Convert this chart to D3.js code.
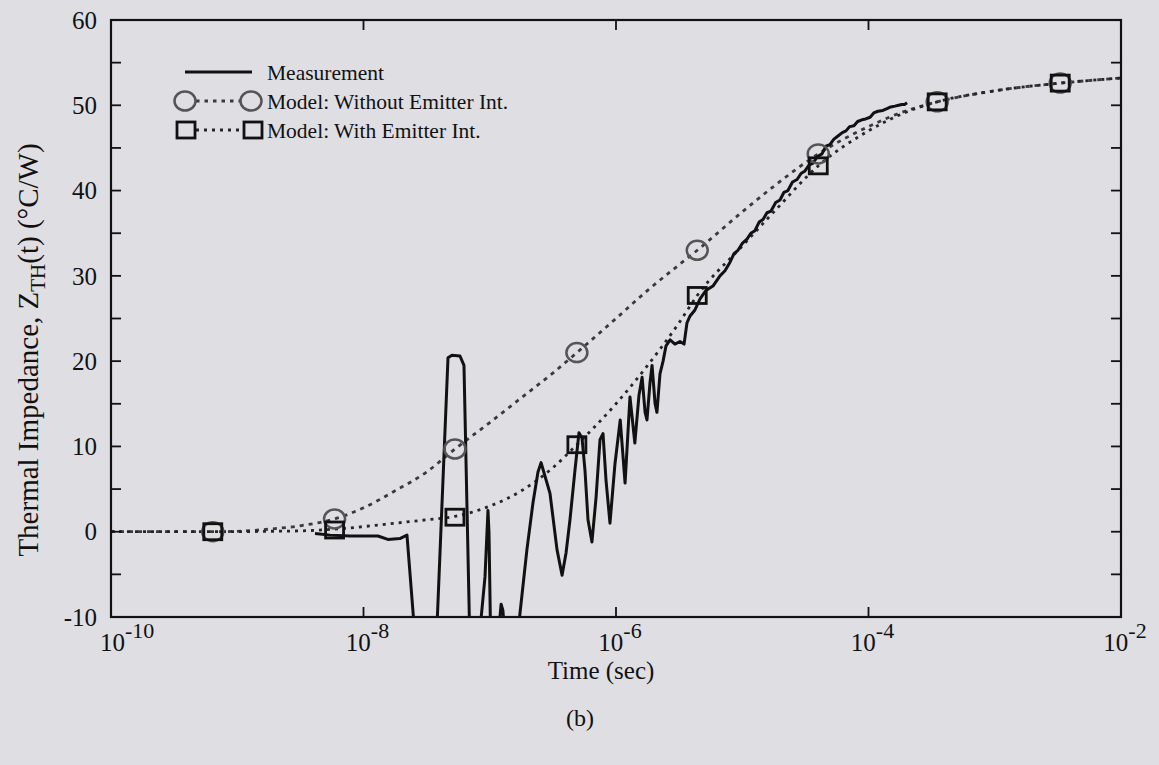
<!DOCTYPE html>
<html><head><meta charset="utf-8">
<script src="https://cdn.jsdelivr.net/npm/d3@7/dist/d3.min.js"></script>
<style>
html,body{margin:0;padding:0;background:#dfdee3;}
svg{display:block;font-family:"Liberation Serif","Times New Roman",serif;}
</style></head>
<body><svg id="c" width="1159" height="765"></svg>
<script>
// ---------- data (time in seconds, impedance in °C/W) ----------
const modelTime = [1e-10,3.16e-10,6.4e-10,1e-9,1.78e-9,3.16e-9,5.9e-9,1e-8,1.78e-8,3.16e-8,5.3e-8,1e-7,1.78e-7,3.16e-7,4.9e-7,1e-6,1.78e-6,3.16e-6,4.4e-6,1e-5,1.78e-5,4e-5,1e-4,1.78e-4,3.5e-4,1e-3,3.3e-3,1e-2];
const modelWithout = [0,0,0,0.05,0.3,0.7,1.5,2.8,4.8,7.0,9.7,12.8,15.7,18.6,21,25,28.3,31.3,33,37.5,40.5,44.3,47.5,49.1,50.4,51.7,52.6,53.2];
const modelWith = [0,0,0,0,0.05,0.1,0.3,0.6,1.0,1.4,1.8,3.0,4.8,7.5,10.2,15,19.5,24.5,27.7,33.5,37.5,42.9,47,48.9,50.4,51.7,52.6,53.2];

const markerTime = [6.4e-10,5.9e-9,5.3e-8,4.9e-7,4.4e-6,4e-5,3.5e-4,3.3e-3];
const markerWithout = [0,1.5,9.7,21,33,44.3,50.4,52.6];
const markerWith = [0,0.2,1.7,10.2,27.7,42.9,50.4,52.6];

const measTime = [4.13e-9,5.43e-9,7.82e-9,1.30e-8,1.56e-8,1.94e-8,2.21e-8,2.61e-8,3.75e-8,4.67e-8,5.02e-8,5.81e-8,6.25e-8,6.98e-8,8.07e-8,9.17e-8,9.68e-8,9.86e-8,1.02e-7,
 1.14e-7,1.23e-7,1.27e-7,1.35e-7,1.61e-7,1.97e-7,2.20e-7,2.41e-7,2.55e-7,2.74e-7,3.00e-7,3.41e-7,3.74e-7,4.02e-7,4.32e-7,4.73e-7,5.09e-7,5.38e-7,5.68e-7,6.00e-7,6.45e-7,6.95e-7,7.47e-7,7.89e-7,8.34e-7,8.96e-7,9.82e-7,
 1.08e-6,1.18e-6,1.29e-6,1.41e-6,1.52e-6,1.61e-6,1.70e-6,1.76e-6,1.86e-6,1.93e-6,2.04e-6,2.11e-6,2.23e-6,2.36e-6,2.49e-6,2.68e-6,2.93e-6,3.21e-6,3.46e-6,3.65e-6,3.86e-6,4.22e-6,4.63e-6,5.16e-6,5.86e-6,6.66e-6,7.3e-6,8.00e-6,8.6e-6,9.25e-6,1.0e-5,1.09e-5,1.17e-5,1.26e-5,1.36e-5,1.46e-5,1.57e-5,1.69e-5,1.84e-5,1.99e-5,2.14e-5,2.30e-5,2.5e-5,2.72e-5,2.92e-5,3.14e-5,3.38e-5,3.63e-5,3.95e-5,4.28e-5,4.6e-5,4.95e-5,5.3e-5,5.73e-5,6.2e-5,6.63e-5,7.1e-5,7.67e-5,8.2e-5,8.87e-5,9.5e-5,1.03e-4,1.1e-4,1.19e-4,1.3e-4,1.40e-4,1.5e-4,1.62e-4,1.73e-4,1.84e-4,1.93e-4,2.02e-4];
const measZ = [-0.2,-0.4,-0.5,-0.5,-0.9,-0.8,-0.4,-14,-14,20.4,20.7,20.6,19.5,-14,-14,-5.3,2.5,0,-14,
 -14,-8.5,-9.2,-14,-14,-2.1,3.4,7.0,8.1,6.5,4.5,-2.1,-5.1,-2.5,1.4,7.2,11.6,11.0,7.2,1.4,-1.2,4.0,10.8,11.5,6.0,1.0,8.0,
 13.1,5.7,15.8,10.4,16.0,18.1,14.0,13.1,17.5,19.5,15.0,14.0,18.5,20.0,21.8,22.5,22.0,22.3,22.0,24.5,25.3,26.0,27.3,28.3,28.8,30.0,30.6,31.6,32.6,33.0,33.8,34.3,35.0,35.3,36.3,36.6,37.4,37.6,38.6,38.9,39.8,40.0,41.0,41.3,42.0,42.3,43.0,43.2,44.0,44.3,45.2,45.4,46.0,46.4,46.8,47.0,47.5,47.6,48.1,48.3,48.4,48.6,49.1,49.3,49.4,49.6,49.8,49.9,50.0,50.1,50.1,50.3];

const yTickLabels = [-10,0,10,20,30,40,50,60];
const xTickExps = [-10,-8,-6,-4,-2];
const legendLabels = ["Measurement","Model: Without Emitter Int.","Model: With Emitter Int."];

// ---------- layout ----------
const svg = d3.select("#c");
const L=111, R=1121, T=20, B=617;
const x = d3.scaleLog().domain([1e-10,1e-2]).range([L,R]);
const y = d3.scaleLinear().domain([-10,60]).range([B,T]);

svg.append("rect").attr("width",1159).attr("height",765).attr("fill","#dfdee3");

const defs = svg.append("defs");
defs.append("clipPath").attr("id","clip").append("rect")
  .attr("x",L).attr("y",T).attr("width",R-L).attr("height",B-T);

const plot = svg.append("g").attr("clip-path","url(#clip)");

// model curves
const modelLine = d3.line().x(d=>x(d[0])).y(d=>y(d[1])).curve(d3.curveMonotoneX);
plot.append("path").datum(modelTime.map((t,i)=>[t,modelWithout[i]]))
  .attr("d",modelLine).attr("fill","none").attr("stroke","#3a3a3a")
  .attr("stroke-width",2.8).attr("stroke-dasharray","4,5");
plot.append("path").datum(modelTime.map((t,i)=>[t,modelWith[i]]))
  .attr("d",modelLine).attr("fill","none").attr("stroke","#262626")
  .attr("stroke-width",2.8).attr("stroke-dasharray","3,5");

// measurement
const measLine = d3.line().x(d=>x(d[0])).y(d=>y(d[1])).curve(d3.curveLinear);
plot.append("path").datum(measTime.map((t,i)=>[t,measZ[i]]))
  .attr("d",measLine).attr("fill","none").attr("stroke","#111")
  .attr("stroke-width",3).attr("stroke-linejoin","round");

// markers
function circleMarker(g,cx,cy){
  g.append("ellipse").attr("cx",cx).attr("cy",cy).attr("rx",10.5).attr("ry",9.5)
    .attr("fill","none").attr("stroke","#555").attr("stroke-width",2.5);
}
function squareMarker(g,cx,cy){
  g.append("rect").attr("x",cx-9).attr("y",cy-8).attr("width",18).attr("height",16)
    .attr("fill","none").attr("stroke","#111").attr("stroke-width",2.8);
}
markerTime.forEach((t,i)=>circleMarker(plot,x(t),y(markerWithout[i])));
markerTime.forEach((t,i)=>squareMarker(plot,x(t),y(markerWith[i])));

// frame
svg.append("rect").attr("x",L).attr("y",T).attr("width",R-L).attr("height",B-T)
  .attr("fill","none").attr("stroke","#111").attr("stroke-width",2.2);

// ticks
const yt = d3.range(-10,61,5);
const axg = svg.append("g").attr("stroke","#111").attr("stroke-width",1.8);
yt.forEach(v=>{
  if(v===-10||v===60) return;
  axg.append("line").attr("x1",L).attr("x2",L+10).attr("y1",y(v)).attr("y2",y(v));
  axg.append("line").attr("x1",R-10).attr("x2",R).attr("y1",y(v)).attr("y2",y(v));
});
xTickExps.forEach(e=>{
  if(e===-10||e===-2) return;
  const px = x(Math.pow(10,e));
  axg.append("line").attr("x1",px).attr("x2",px).attr("y1",B).attr("y2",B-10);
  axg.append("line").attr("x1",px).attr("x2",px).attr("y1",T).attr("y2",T+10);
});

// y tick labels
svg.append("g").selectAll("text").data(yTickLabels).join("text")
  .attr("x",97).attr("y",d=>y(d)).attr("dy","0.35em")
  .attr("text-anchor","end").attr("font-size",25).attr("fill","#111")
  .text(d=>d);

// x tick labels
const xl = svg.append("g");
xTickExps.forEach((e,i)=>{
  const px = x(Math.pow(10,e));
  const t = xl.append("text").attr("y",651).attr("font-size",25).attr("fill","#111");
  if(i===0){ t.attr("x",px-11).attr("text-anchor","start"); }
  else { t.attr("x",px+4).attr("text-anchor","middle"); }
  t.append("tspan").text("10");
  t.append("tspan").attr("dy",-13).attr("font-size",22).text(String(e));
});

// axis titles
svg.append("text").attr("x",601).attr("y",679).attr("text-anchor","middle")
  .attr("font-size",25).attr("fill","#111").text("Time (sec)");

const yl = svg.append("text").attr("transform","translate(38,350) rotate(-90)")
  .attr("text-anchor","middle").attr("font-size",29).attr("fill","#111");
yl.append("tspan").text("Thermal Impedance, Z");
yl.append("tspan").attr("font-size",21).attr("dy",7).text("TH");
yl.append("tspan").attr("dy",-7).text("(t) (°C/W)");

svg.append("text").attr("x",580).attr("y",726).attr("text-anchor","middle")
  .attr("font-size",24).attr("fill","#111").text("(b)");

// legend
const lg = svg.append("g");
lg.append("line").attr("x1",185).attr("x2",252).attr("y1",72).attr("y2",72)
  .attr("stroke","#111").attr("stroke-width",3);
lg.append("line").attr("x1",196).attr("x2",240).attr("y1",101).attr("y2",101)
  .attr("stroke","#3a3a3a").attr("stroke-width",2.8).attr("stroke-dasharray","3.5,5");
circleMarker(lg,185,101); circleMarker(lg,251,101);
lg.append("line").attr("x1",196).attr("x2",244).attr("y1",130).attr("y2",130)
  .attr("stroke","#262626").attr("stroke-width",2.8).attr("stroke-dasharray","3,5");
squareMarker(lg,186,130); squareMarker(lg,253,130);
legendLabels.forEach((s,i)=>{
  lg.append("text").attr("x",267).attr("y",72+29*i).attr("dy","0.35em")
    .attr("font-size",21.5).attr("fill","#111").text(s);
});
</script></body></html>
